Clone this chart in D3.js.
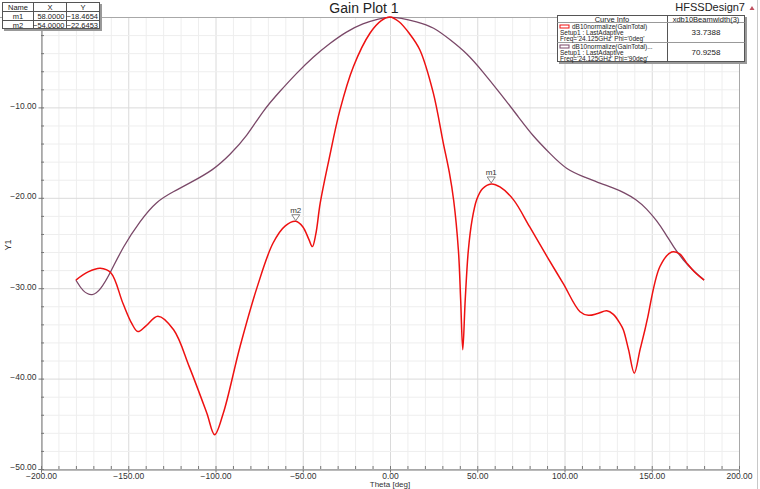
<!DOCTYPE html>
<html><head><meta charset="utf-8">
<script src="https://cdn.jsdelivr.net/npm/d3@7"></script>
<style>body{margin:0;background:#fff;font-family:"Liberation Sans",Arial,sans-serif;}</style>
</head><body><svg id="c" width="760" height="489"></svg>
<script>
// ---- data ----
const phi0Theta = [-180,-173,-166,-160,-153,-148,-144.5,-140,-133,-124,-115,-105,-100.5,-95.5,-86,-76,-67,-60,-54,-50,-46.5,-44.5,-42.5,-40,-35,-28.7,-21,-11.5,-5,0,5,11,17,24.8,30.6,34,36.5,39.2,40.5,41.7,43.1,44.9,47,49.7,53,58,63,70.7,80,90,99.3,108.9,113.7,119,124.2,128,131.8,133.7,136.7,140,143.3,146.1,147.5,154.7,161.4,166,170,175,180];
const phi0Gain  = [-29.1,-28.2,-27.8,-28.3,-31.7,-33.9,-34.8,-34.2,-33.1,-34.6,-38.7,-43.8,-46.2,-43.8,-36.5,-29.8,-25.0,-23.1,-22.6,-23.2,-24.6,-25.4,-24.0,-20.6,-15.8,-10.3,-5.5,-1.8,-0.4,0,-0.5,-1.8,-3.6,-8.4,-14.0,-17.2,-20.3,-25.8,-31.3,-36.8,-31.3,-25.8,-22.5,-20.2,-19.0,-18.47,-18.8,-20.2,-23.2,-26.5,-29.5,-32.6,-33.0,-32.8,-32.5,-32.9,-33.9,-34.6,-36.8,-39.4,-36.8,-34.6,-33.4,-27.6,-26.0,-26.2,-27.2,-28.3,-29.1];
const phi90Theta = [-180,-176,-170.5,-166,-160.5,-153,-143,-134,-124,-115,-101,-92,-82,-72.6,-63,-53.5,-44,-34.4,-25,-15.3,-7,0,6,15,25,35,44,53,63,73,82,91.7,101,112.7,120.3,128,134,141.4,147,152.8,158,162.4,168,174,180];
const phi90Gain  = [-29.1,-30.4,-30.9,-30.2,-28.4,-25.4,-22.5,-20.4,-19.3,-18.4,-16.9,-15.3,-13.2,-10.3,-8.2,-6.2,-4.4,-2.9,-1.6,-0.7,-0.2,0,-0.1,-0.5,-1.1,-2.6,-4.0,-6.0,-8.4,-10.9,-13.2,-15.1,-16.9,-17.8,-18.4,-18.9,-19.4,-20.2,-21.2,-22.5,-24.0,-25.4,-26.9,-28.1,-29.1];
const xTicks = [-200,-150,-100,-50,0,50,100,150,200];
const yTicks = [-50,-40,-30,-20,-10];
const markerNames = ["m1","m2"];
const markerX = [58.0,-54.0];
const markerY = [-18.4654,-22.6453];
const curveLabels = [["dB10normalize(GainTotal)","Setup1 : LastAdaptive","Freq='24.125GHz' Phi='0deg'"],
                     ["dB10normalize(GainTotal)...","Setup1 : LastAdaptive","Freq='24.125GHz' Phi='90deg'"]];
const beamwidth = ["33.7388","70.9258"];
const colors = ["#ee1111","#7a4868"];

// ---- chart ----
const svg = d3.select("#c");
const L=41,R=739,T=17,B=469;
const x = d3.scaleLinear().domain([-200,200]).range([L,R]);
const y = d3.scaleLinear().domain([-50,0]).range([B,T]);
const F = "Liberation Sans, Arial, sans-serif";

svg.append("line").attr("x1",757.5).attr("x2",757.5).attr("y1",0).attr("y2",489).attr("stroke","#c8c8c8");

const g = svg.append("g");
d3.range(-200,201,10).forEach(v=>{
  g.append("line").attr("x1",x(v)+0.5).attr("x2",x(v)+0.5).attr("y1",T).attr("y2",B)
   .attr("stroke", v%50===0 ? "#dadada" : "#eeeeee");
});
d3.range(-50,1,2).forEach(v=>{
  g.append("line").attr("x1",L).attr("x2",R).attr("y1",y(v)+0.5).attr("y2",y(v)+0.5)
   .attr("stroke", v%10===0 ? "#dadada" : "#eeeeee");
});
g.append("line").attr("x1",0).attr("x2",R).attr("y1",T+0.5).attr("y2",T+0.5).attr("stroke","#a8a8a8");
g.append("line").attr("x1",R+0.5).attr("x2",R+0.5).attr("y1",T).attr("y2",B).attr("stroke","#a8a8a8");

const xAxis = d3.axisBottom(x).tickValues(xTicks).tickFormat(d3.format(".2f")).tickSize(3);
const yAxis = d3.axisLeft(y).tickValues(yTicks).tickFormat(d3.format(".2f")).tickSize(3);
const xa = svg.append("g").attr("transform",`translate(0,${B+0.5})`).call(xAxis);
const ya = svg.append("g").attr("transform",`translate(${L+0.5},0)`).call(yAxis);
[xa,ya].forEach(a=>{
  a.select(".domain").attr("stroke","#777");
  a.selectAll(".tick line").attr("stroke","#777");
  a.selectAll("text").attr("fill","#333").style("font-family",F).style("font-size","8.5px");
});
xa.selectAll("text").attr("dy","0").attr("y",9);
ya.selectAll("text").attr("x",-5).attr("dy","0.1em");
d3.range(-200,201,10).forEach(v=>{
  svg.append("line").attr("x1",x(v)+0.5).attr("x2",x(v)+0.5).attr("y1",B).attr("y2",B-3).attr("stroke","#777");
});
d3.range(-50,1,2).forEach(v=>{
  svg.append("line").attr("x1",L).attr("x2",L+3).attr("y1",y(v)+0.5).attr("y2",y(v)+0.5).attr("stroke","#777");
});

svg.append("text").attr("x",390).attr("y",487).attr("text-anchor","middle")
  .style("font-family",F).style("font-size","8px").attr("fill","#333").text("Theta [deg]");
svg.append("text").attr("transform","translate(11,245) rotate(-90)").attr("text-anchor","middle")
  .style("font-family",F).style("font-size","9px").attr("fill","#333").text("Y1");

// curves
const line0 = d3.line().x(d=>x(d[0])).y(d=>y(d[1])).curve(d3.curveCatmullRom.alpha(0.5));
const line90 = d3.line().x(d=>x(d[0])).y(d=>y(d[1])).curve(d3.curveBasis);
const s90 = phi90Theta.map((t,i)=>[t,phi90Gain[i]]);
const s0 = phi0Theta.map((t,i)=>[t,phi0Gain[i]]);
svg.append("path").attr("d",line90(s90)).attr("fill","none").attr("stroke",colors[1]).attr("stroke-width",1.3);
svg.append("path").attr("d",line0(s0)).attr("fill","none").attr("stroke",colors[0]).attr("stroke-width",1.5);

markerNames.forEach((n,i)=>{
  const px=x(markerX[i]), py=y(markerY[i]);
  svg.append("path").attr("d",`M${px},${py-1}L${px-4},${py-7}L${px+4},${py-7}Z`)
    .attr("fill","#fff").attr("stroke","#666").attr("stroke-width",0.8);
  svg.append("text").attr("x",px).attr("y",py-9).attr("text-anchor","middle")
    .style("font-family",F).style("font-size","8px").attr("fill","#333").text(n);
});

svg.append("text").attr("x",364).attr("y",13).attr("text-anchor","middle")
  .style("font-family",F).style("font-size","14px").attr("fill","#222").text("Gain Plot 1");
svg.append("text").attr("x",745).attr("y",11).attr("text-anchor","end")
  .style("font-family",F).style("font-size","11px").attr("fill","#222").text("HFSSDesign7");
svg.append("path").attr("d","M752,6L749.5,10L754.5,10Z").attr("fill","#c05060");

// marker table
const tb = svg.append("g");
tb.append("rect").attr("x",4).attr("y",4).attr("width",98).attr("height",27).attr("fill","#999");
tb.append("rect").attr("x",2.5).attr("y",2.5).attr("width",97).attr("height",26).attr("fill","#fff").attr("stroke","#555");
[11.5,20.5].forEach(yy=>tb.append("line").attr("x1",2.5).attr("x2",99.5).attr("y1",yy).attr("y2",yy).attr("stroke","#555"));
[33.5,66.5].forEach(xx=>tb.append("line").attr("x1",xx).attr("x2",xx).attr("y1",2.5).attr("y2",28.5).attr("stroke","#555"));
const tt=(tx,ty,s,anch)=>tb.append("text").attr("x",tx).attr("y",ty).attr("text-anchor",anch||"middle")
  .style("font-family",F).style("font-size","7.5px").attr("fill","#222").text(s);
tt(18,10,"Name"); tt(50,10,"X"); tt(83,10,"Y");
markerNames.forEach((n,i)=>{
  const yy=19+i*9;
  tt(18,yy,n); tt(64.5,yy,d3.format(".4f")(markerX[i]),"end"); tt(98,yy,d3.format(".4f")(markerY[i]),"end");
});

// curve info legend
const lg = svg.append("g");
lg.append("rect").attr("x",559).attr("y",17).attr("width",188).attr("height",47).attr("fill","#999");
lg.append("rect").attr("x",557.5).attr("y",15.5).attr("width",187).attr("height",46).attr("fill","#fff").attr("stroke","#555");
lg.append("line").attr("x1",667.5).attr("x2",667.5).attr("y1",15.5).attr("y2",61.5).attr("stroke","#555");
[22.5,42.5].forEach(yy=>lg.append("line").attr("x1",557.5).attr("x2",744.5).attr("y1",yy).attr("y2",yy).attr("stroke","#999"));
const lt=(tx,ty,s,anch,sz)=>lg.append("text").attr("x",tx).attr("y",ty).attr("text-anchor",anch||"middle")
  .style("font-family",F).style("font-size",(sz||7.5)+"px").attr("fill","#222").text(s);
lt(612,21.5,"Curve Info",null,7.5); lt(706,21.5,"xdb10Beamwidth(3)",null,7.5);
curveLabels.forEach((lines,i)=>{
  const y0=22.5+i*20;
  lg.append("rect").attr("x",560).attr("y",y0+2.5).attr("width",9).attr("height",3).attr("fill","#fff").attr("stroke",colors[i]).attr("stroke-width",1);
  lt(572,y0+6.5,lines[0],"start",6.5);
  lt(560,y0+12.5,lines[1],"start",6.5);
  lt(560,y0+18.5,lines[2],"start",6.5);
  lt(706,y0+12,beamwidth[i],"middle",8);
});
</script></body></html>
